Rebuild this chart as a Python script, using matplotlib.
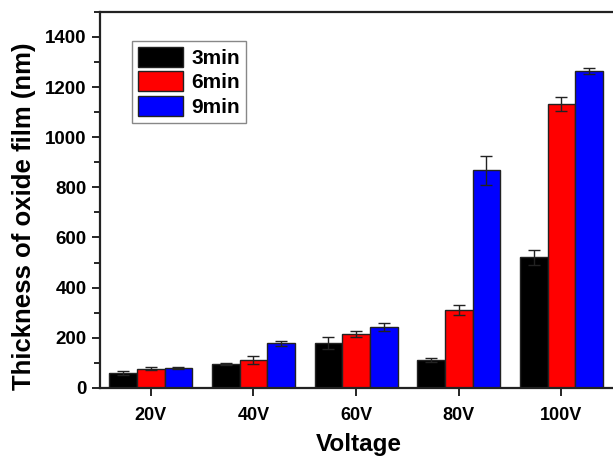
import numpy as np
import matplotlib
matplotlib.use("Agg")
import matplotlib.pyplot as plt
from matplotlib.ticker import MultipleLocator

# Thickness of oxide film
voltages = ['20V', '40V', '60V', '80V', '100V']
series_names = ['3min', '6min', '9min']
thick_3min = [60, 96, 178, 113, 521]
thick_6min = [77, 113, 214, 311, 1133]
thick_9min = [80, 177, 242, 868, 1264]
err_3min = [8, 4, 24, 8, 29]
err_6min = [7, 16, 11, 19, 27]
err_9min = [4, 8, 15, 58, 13]
colors = ['#000000', '#ff0000', '#0000ff']

plt.rcParams['font.family'] = ['Liberation Sans', 'DejaVu Sans']
plt.rcParams['font.weight'] = 'bold'


def plot_thickness():
    fig = plt.figure(figsize=(6.13, 4.59), dpi=100)
    ax = fig.add_axes([0.163, 0.155, 0.845, 0.819])

    x = np.arange(len(voltages))
    width = 0.27
    values = [thick_3min, thick_6min, thick_9min]
    errors = [err_3min, err_6min, err_9min]

    for i, (vals, errs) in enumerate(zip(values, errors)):
        ax.bar(x + (i - 1) * width, vals, width, color=colors[i],
               edgecolor='#222222', linewidth=1.0, label=series_names[i],
               yerr=errs, capsize=4,
               error_kw=dict(ecolor='#222222', elinewidth=1.0, capthick=1.0))

    ax.set_xlim(-0.495, 4.55)
    ax.set_ylim(0, 1500)
    ax.set_xticks(x)
    ax.set_xticklabels(voltages, fontsize=13, fontweight='bold')
    ax.yaxis.set_major_locator(MultipleLocator(200))
    ax.yaxis.set_minor_locator(MultipleLocator(100))
    ax.tick_params(axis='y', which='major', length=6, width=1.2, labelsize=13.5)
    ax.tick_params(axis='y', which='minor', length=4, width=1.2)
    ax.tick_params(axis='x', length=6, width=1.2, pad=8)
    for lbl in ax.get_yticklabels():
        lbl.set_fontweight('bold')

    for side in ['left', 'bottom', 'top']:
        ax.spines[side].set_linewidth(1.6)
        ax.spines[side].set_color('#222222')
    ax.spines['right'].set_visible(False)

    ax.set_xlabel('Voltage', fontsize=17.5, fontweight='bold', labelpad=6)
    ax.set_ylabel('Thickness of oxide film (nm)', fontsize=18.5, fontweight='bold')
    # label sits a little below the axes centre in the original
    ax.yaxis.set_label_coords(-0.124, 0.457)

    leg = ax.legend(loc='upper left', bbox_to_anchor=(0.062, 0.923), fontsize=15,
                    handlelength=2.15, handleheight=1.1, labelspacing=0.15,
                    handletextpad=0.4, borderpad=0.3, borderaxespad=0,
                    fancybox=False, framealpha=1)
    leg.get_frame().set_edgecolor('#888888')
    leg.get_frame().set_linewidth(1.0)
    for t in leg.get_texts():
        t.set_fontweight('bold')

    fig.savefig('out.png', dpi=100)


if __name__ == "__main__":
    plot_thickness()
